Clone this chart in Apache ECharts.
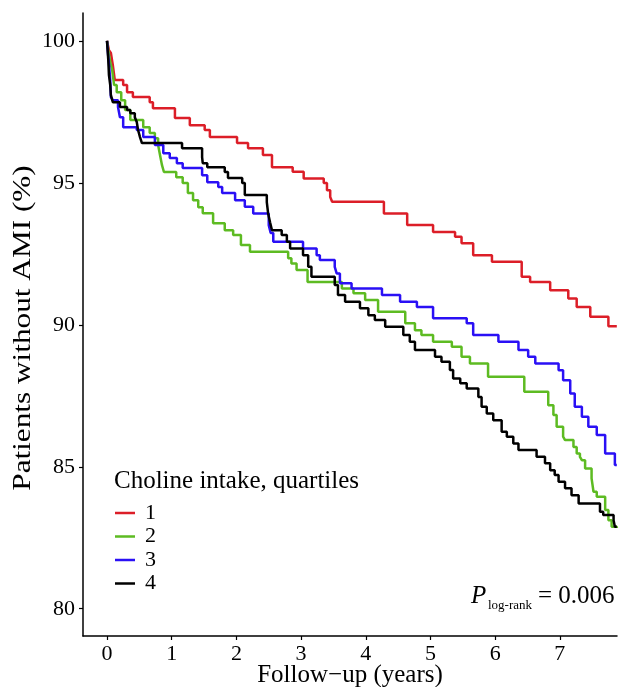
<!DOCTYPE html>
<html>
<head>
<meta charset="utf-8">
<script src="https://cdn.jsdelivr.net/npm/echarts@6/dist/echarts.min.js"></script>
<style>html,body{margin:0;padding:0;background:#fff;}#chart{width:620px;height:687px;}</style>
</head>
<body>
<div id="chart"></div>
<script>
// Quartile 1
const q1Time = [0, 0.03, 0.06, 0.09, 0.12, 0.25, 0.31, 0.40, 0.66, 0.71, 1.05, 1.28, 1.51, 1.59, 2.01, 2.18, 2.41, 2.55, 2.87, 3.04, 3.35, 3.40, 3.45, 3.48, 4.28, 4.64, 5.04, 5.38, 5.48, 5.66, 5.95, 6.41, 6.54, 6.85, 7.13, 7.26, 7.47, 7.75, 7.88];
const q1Surv = [100, 99.67, 99.57, 99.14, 98.62, 98.44, 98.19, 98.02, 97.84, 97.63, 97.28, 97.03, 96.86, 96.61, 96.40, 96.22, 95.98, 95.55, 95.39, 95.15, 94.99, 94.74, 94.50, 94.33, 93.92, 93.51, 93.27, 93.10, 92.87, 92.45, 92.22, 91.69, 91.51, 91.22, 90.93, 90.63, 90.28, 89.95, 89.95];
// Quartile 2
const q2Time = [0, 0.02, 0.05, 0.08, 0.11, 0.15, 0.22, 0.28, 0.36, 0.56, 0.66, 0.74, 0.79, 0.82, 0.85, 0.88, 1.07, 1.17, 1.25, 1.33, 1.41, 1.48, 1.64, 1.82, 1.95, 2.07, 2.21, 2.80, 2.85, 2.93, 3.10, 3.63, 3.81, 3.99, 4.19, 4.61, 4.76, 4.86, 5.04, 5.33, 5.48, 5.61, 5.89, 6.45, 6.82, 6.90, 6.95, 7.05, 7.08, 7.21, 7.26, 7.31, 7.34, 7.39, 7.49, 7.52, 7.57, 7.70, 7.75, 7.80, 7.88];
const q2Surv = [100, 99.67, 99.25, 98.97, 98.44, 98.19, 97.91, 97.56, 97.21, 96.96, 96.75, 96.57, 96.33, 95.97, 95.62, 95.38, 95.20, 94.99, 94.64, 94.39, 94.14, 93.93, 93.58, 93.33, 93.16, 92.81, 92.57, 92.34, 92.16, 91.93, 91.51, 91.28, 91.11, 90.87, 90.46, 90.05, 89.81, 89.64, 89.40, 89.23, 88.87, 88.64, 88.17, 87.64, 87.17, 86.82, 86.41, 86.06, 85.94, 85.70, 85.47, 85.35, 85.23, 84.94, 84.59, 84.12, 83.94, 83.48, 83.12, 82.89, 82.84];
// Quartile 3
const q3Time = [0, 0.02, 0.03, 0.05, 0.06, 0.09, 0.17, 0.20, 0.25, 0.46, 0.56, 0.74, 0.87, 0.97, 1.08, 1.17, 1.47, 1.55, 1.72, 1.78, 1.98, 2.13, 2.26, 2.50, 2.53, 2.57, 3.03, 3.24, 3.29, 3.52, 3.55, 3.60, 3.78, 4.25, 4.53, 4.79, 5.04, 5.56, 5.66, 6.05, 6.36, 6.51, 6.62, 6.98, 7.05, 7.16, 7.23, 7.34, 7.44, 7.57, 7.70, 7.85, 7.88];
const q3Surv = [100, 99.43, 99.21, 98.62, 98.02, 97.91, 97.67, 97.31, 96.96, 96.86, 96.61, 96.33, 96.04, 95.87, 95.69, 95.52, 95.27, 95.02, 94.85, 94.64, 94.39, 94.16, 93.92, 93.51, 93.23, 92.92, 92.69, 92.45, 92.28, 92.04, 91.81, 91.46, 91.28, 91.05, 90.81, 90.63, 90.23, 90.05, 89.64, 89.40, 89.11, 88.87, 88.64, 88.40, 88.05, 87.58, 87.11, 86.76, 86.41, 86.12, 85.47, 85.06, 85.06];
// Quartile 4
const q4Time = [0, 0.02, 0.03, 0.05, 0.06, 0.09, 0.20, 0.31, 0.36, 0.43, 0.46, 0.48, 0.51, 0.54, 1.16, 1.47, 1.48, 1.55, 1.82, 1.87, 2.09, 2.13, 2.47, 2.49, 2.52, 2.55, 2.70, 2.78, 2.83, 3.03, 3.11, 3.16, 3.52, 3.57, 3.68, 3.91, 4.04, 4.14, 4.30, 4.58, 4.68, 4.76, 5.07, 5.17, 5.30, 5.35, 5.46, 5.56, 5.74, 5.79, 5.87, 5.97, 6.10, 6.18, 6.28, 6.36, 6.64, 6.77, 6.85, 6.92, 6.98, 7.08, 7.18, 7.29, 7.62, 7.67, 7.83, 7.85, 7.88];
const q4Surv = [100, 99.32, 98.79, 98.44, 98.09, 97.84, 97.67, 97.56, 97.45, 97.31, 97.14, 96.86, 96.61, 96.40, 96.22, 95.90, 95.69, 95.55, 95.38, 95.17, 94.99, 94.57, 94.32, 93.93, 93.61, 93.33, 93.16, 92.92, 92.69, 92.45, 92.04, 91.69, 91.40, 91.05, 90.81, 90.58, 90.34, 90.17, 89.93, 89.64, 89.40, 89.11, 88.87, 88.70, 88.41, 88.11, 87.94, 87.76, 87.46, 87.11, 86.88, 86.64, 86.23, 86.06, 85.82, 85.59, 85.35, 85.12, 84.88, 84.71, 84.47, 84.24, 84.00, 83.71, 83.42, 83.30, 83.12, 82.89, 82.89];

const groupNames = ['1', '2', '3', '4'];
const groupColors = ['#DC1E28', '#5DBB22', '#2A10F5', '#000000'];
const xTicks = [0, 1, 2, 3, 4, 5, 6, 7];
const yTicks = [80, 85, 90, 95, 100];

const FONT = '"Liberation Serif", "Times New Roman", serif';
const times = [q1Time, q2Time, q3Time, q4Time];
const survs = [q1Surv, q2Surv, q3Surv, q4Surv];

const chart = echarts.init(document.getElementById('chart'), null, {renderer: 'canvas'});

const series = groupNames.map((name, i) => ({
  name: name,
  type: 'line',
  step: 'end',
  showSymbol: false,
  symbol: 'none',
  data: times[i].map((t, k) => [t, survs[i][k]]),
  lineStyle: {color: groupColors[i], width: 2.5},
  itemStyle: {color: groupColors[i]},
  animation: false,
  z: 2 + i
}));

chart.setOption({
  animation: false,
  backgroundColor: '#fff',
  grid: {left: 83, right: 3, top: 13, bottom: 51, containLabel: false, outerBoundsMode: 'none'},
  xAxis: {
    type: 'value',
    min: -0.371,
    max: 7.883,
    name: 'Follow\u2212up (years)',
    nameLocation: 'middle',
    nameGap: 27,
    nameMoveOverlap: false,
    nameTextStyle: {fontFamily: FONT, fontSize: 25, color: '#000'},
    axisLine: {show: true, onZero: false, lineStyle: {color: '#000', width: 1.5}},
    axisTick: {show: true, length: 4, customValues: xTicks, lineStyle: {color: '#000', width: 1.2}},
    axisLabel: {customValues: xTicks, fontFamily: FONT, fontSize: 22, color: '#000', margin: 7},
    splitLine: {show: false}
  },
  yAxis: {
    type: 'value',
    min: 79.04,
    max: 100.98,
    axisLine: {show: true, onZero: false, lineStyle: {color: '#000', width: 1.5}},
    axisTick: {show: true, length: 4, customValues: yTicks, lineStyle: {color: '#000', width: 1.2}},
    axisLabel: {customValues: yTicks, fontFamily: FONT, fontSize: 22, color: '#000', margin: 8},
    splitLine: {show: false}
  },
  legend: {
    data: groupNames,
    orient: 'vertical',
    left: 115,
    top: 502,
    padding: 0,
    itemGap: 1.5,
    itemWidth: 20,
    itemHeight: 2.5,
    icon: 'rect',
    selectedMode: false,
    textStyle: {fontFamily: FONT, fontSize: 22, color: '#000', lineHeight: 22, padding: [0, 0, 0, 5]}
  },
  graphic: [
    {
      type: 'text', x: 23, y: 328, rotation: Math.PI / 2, scaleX: 1.25,
      style: {text: 'Patients without AMI (%)', font: '25px ' + FONT, fill: '#000', align: 'center', verticalAlign: 'middle'}
    },
    {
      type: 'text', left: 114, top: 469,
      style: {text: 'Choline intake, quartiles', font: '25px ' + FONT, fill: '#000'}
    },
    {type: 'text', x: 471, y: 584, style: {text: 'P', font: 'italic 25px ' + FONT, fill: '#000'}},
    {type: 'text', x: 488, y: 599, style: {text: 'log-rank', font: '13px ' + FONT, fill: '#000'}},
    {type: 'text', x: 538, y: 584, style: {text: '= 0.006', font: '25px ' + FONT, fill: '#000'}}
  ],
  series: series
});
</script>
</body>
</html>
